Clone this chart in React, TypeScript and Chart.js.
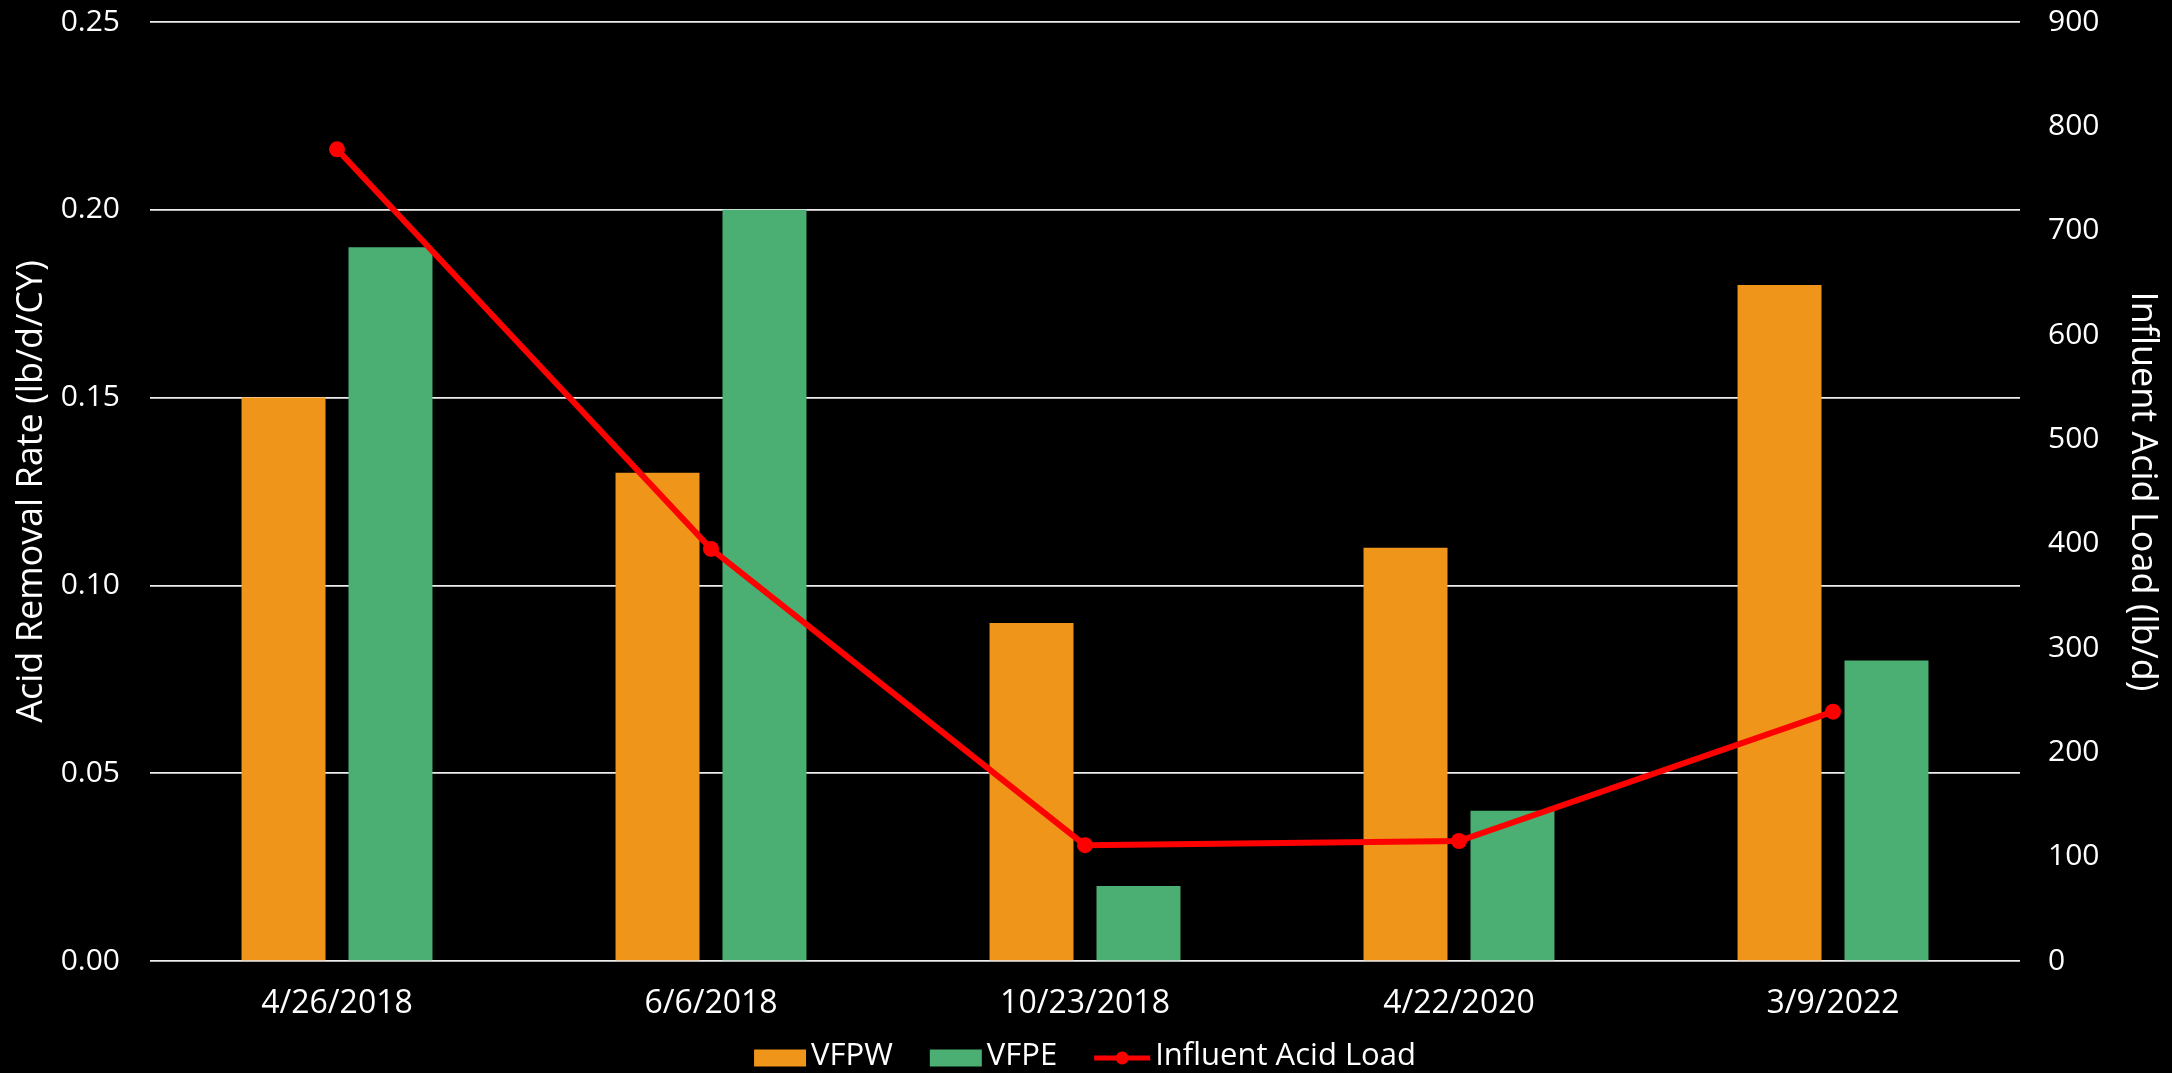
import { useEffect, useRef } from 'react';
import { Chart, registerables } from 'chart.js';

Chart.register(...registerables);

// Sampling dates
const categories = ['4/26/2018', '6/6/2018', '10/23/2018', '4/22/2020', '3/9/2022'];
// Acid removal rate per filter (lb/d/CY)
const vfpwRate = [0.15, 0.13, 0.09, 0.11, 0.18];
const vfpeRate = [0.19, 0.2, 0.02, 0.04, 0.08];
// Influent acid load (lb/d)
const influentLoad = [778, 395, 111, 115, 239];

const WIDTH = 2172;
const HEIGHT = 1073;
const FONT = "'Open Sans', 'Noto Sans', sans-serif";
const ORANGE = '#EF9519';
const GREEN = '#4BAF74';
const RED = '#FF0000';

// Legend drawn below the x labels: colour box / line-with-dot, then the label.
const bottomLegend = {
  id: 'bottomLegend',
  afterDraw(chart: any) {
    const { ctx, chartArea } = chart;
    const fontSize = 31;
    const boxW = 52;
    const boxH = 17;
    const lineW = 56;
    const symGap = 5;
    const itemGap = 37;
    const cy = 1056;
    ctx.save();
    ctx.font = `${fontSize}px ${FONT}`;
    ctx.textBaseline = 'middle';
    ctx.textAlign = 'left';
    const items = chart.data.datasets.map((ds: any) => {
      const isLine = ds.type === 'line';
      const symW = isLine ? lineW : boxW;
      const textW = ctx.measureText(ds.label).width;
      return { ds, isLine, symW, textW, total: symW + symGap + textW };
    });
    const totalW =
      items.reduce((s: number, it: any) => s + it.total, 0) + itemGap * (items.length - 1);
    let x = (chartArea.left + chartArea.right) / 2 - totalW / 2;
    for (const it of items) {
      if (it.isLine) {
        ctx.strokeStyle = it.ds.borderColor;
        ctx.lineWidth = 5;
        ctx.beginPath();
        ctx.moveTo(x, cy + 2);
        ctx.lineTo(x + lineW, cy + 2);
        ctx.stroke();
        ctx.fillStyle = it.ds.borderColor;
        ctx.beginPath();
        ctx.arc(x + lineW / 2, cy + 2, 6.5, 0, Math.PI * 2);
        ctx.fill();
      } else {
        ctx.fillStyle = it.ds.backgroundColor;
        ctx.fillRect(x, cy - boxH / 2 + 2, boxW, boxH);
      }
      x += it.symW + symGap;
      ctx.fillStyle = '#FFFFFF';
      ctx.fillText(it.ds.label, x, cy);
      x += it.textW + itemGap;
    }
    ctx.restore();
  },
};

// Vertical axes: fixed width and no extra top/bottom label padding.
const fixVertical = (width: number) => (scale: any) => {
  scale.width = width;
  scale.paddingTop = 0;
  scale.paddingBottom = 0;
};

export default function App() {
  const canvasRef = useRef<HTMLCanvasElement | null>(null);

  useEffect(() => {
    document.body.style.margin = '0';
    document.body.style.background = '#000';
    const canvas = canvasRef.current;
    if (!canvas) return;

    const chart = new Chart(canvas, {
      type: 'bar',
      data: {
        labels: categories,
        datasets: [
          {
            type: 'bar',
            label: 'VFPW',
            data: vfpwRate,
            yAxisID: 'y',
            backgroundColor: ORANGE,
            categoryPercentage: 0.572,
            barPercentage: 0.785,
            order: 1,
          },
          {
            type: 'bar',
            label: 'VFPE',
            data: vfpeRate,
            yAxisID: 'y',
            backgroundColor: GREEN,
            categoryPercentage: 0.572,
            barPercentage: 0.785,
            order: 1,
          },
          {
            type: 'line',
            label: 'Influent Acid Load',
            data: influentLoad,
            yAxisID: 'y1',
            borderColor: RED,
            backgroundColor: RED,
            borderWidth: 6,
            pointRadius: 8,
            pointHoverRadius: 8,
            pointBackgroundColor: RED,
            pointBorderWidth: 0,
            tension: 0,
            order: 0,
          } as any,
        ],
      },
      options: {
        responsive: false,
        animation: false,
        devicePixelRatio: 1,
        layout: { padding: { top: 22, left: 0, right: 0, bottom: 0 } },
        plugins: {
          legend: { display: false },
          tooltip: { enabled: false },
        },
        scales: {
          x: {
            grid: { display: false },
            border: { display: false },
            ticks: {
              color: '#FFFFFF',
              font: { family: FONT, size: 32 },
              padding: 16,
              maxRotation: 0,
            },
            afterFit(scale: any) {
              scale.height = 112;
            },
          },
          y: {
            position: 'left',
            min: 0,
            max: 0.25,
            grid: { color: '#EEEEEE', lineWidth: 1.7, drawTicks: false },
            border: { display: false },
            ticks: {
              stepSize: 0.05,
              color: '#FFFFFF',
              font: { family: FONT, size: 30 },
              padding: 30,
              callback: (v: any) => Number(v).toFixed(2),
            },
            title: {
              display: true,
              text: 'Acid Removal Rate (lb/d/CY)',
              color: '#FFFFFF',
              font: { family: FONT, size: 36 },
              padding: { top: 10, bottom: 0 },
            },
            afterFit: fixVertical(150),
          },
          y1: {
            position: 'right',
            min: 0,
            max: 900,
            grid: { display: false, drawTicks: false },
            border: { display: false },
            ticks: {
              stepSize: 100,
              color: '#FFFFFF',
              font: { family: FONT, size: 30 },
              padding: 28,
            },
            title: {
              display: true,
              text: 'Influent Acid Load (lb/d)',
              color: '#FFFFFF',
              font: { family: FONT, size: 36 },
              padding: { top: 8, bottom: 0 },
            },
            afterFit: fixVertical(152),
          },
        },
      },
      plugins: [bottomLegend],
    });

    return () => chart.destroy();
  }, []);

  return (
    <div style={{ width: WIDTH, height: HEIGHT, background: '#000' }}>
      <canvas ref={canvasRef} width={WIDTH} height={HEIGHT} style={{ display: 'block' }} />
    </div>
  );
}
